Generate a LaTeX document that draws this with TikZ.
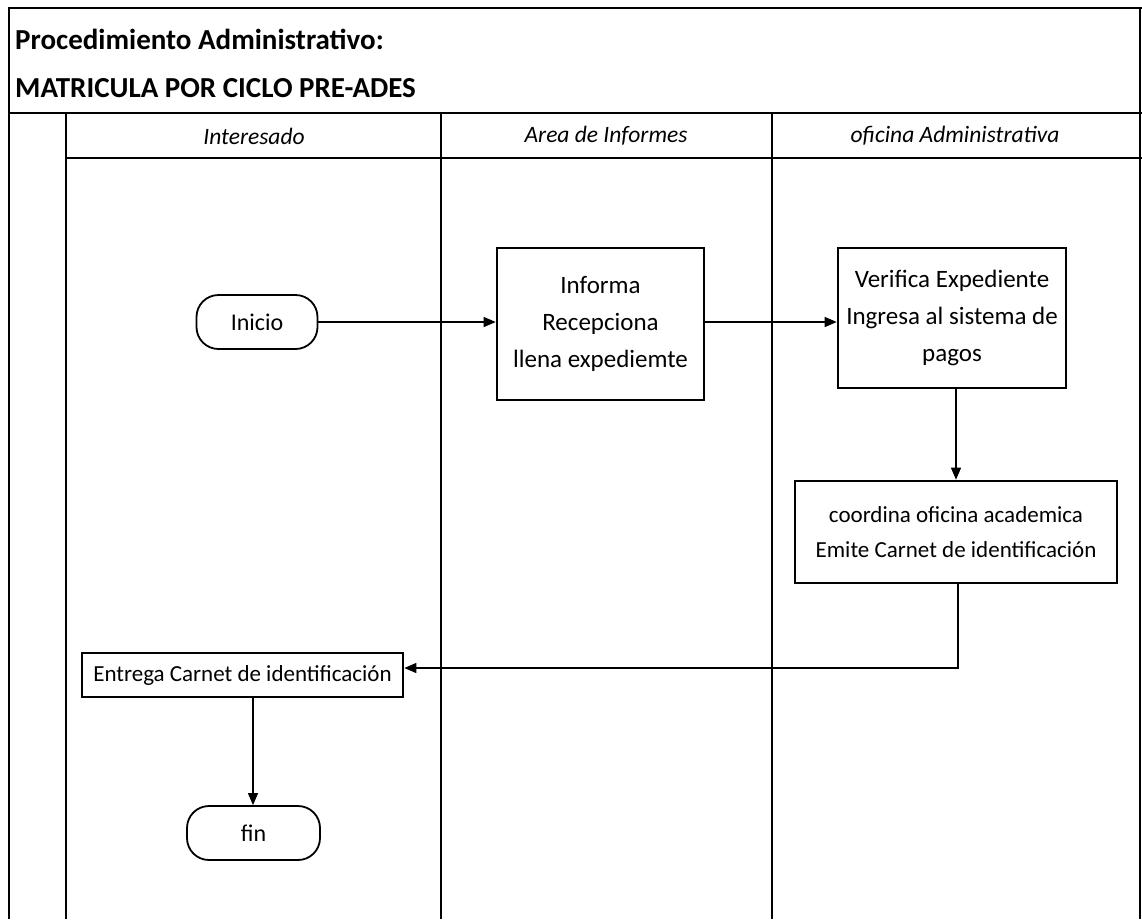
\documentclass[tikz,border=0pt]{standalone}
\usepackage{fontspec}
\setmainfont{Carlito}
\usetikzlibrary{arrows.meta}
\tikzset{
  frame/.style={line width=2.4pt},
  thin frame/.style={line width=1.6pt},
  procbox/.style={draw, line width=2.6pt, align=center, font=\fontsize{23}{35}\selectfont, inner sep=0pt},
  bigtext/.style={font=\fontsize{25}{37}\selectfont},
  term/.style={draw, line width=1.8pt, rounded corners=22pt, font=\fontsize{24}{28}\selectfont, inner sep=0pt},
  lanehead/.style={font=\itshape\fontsize{23.5}{26}\selectfont},
  titletext/.style={anchor=base west, font=\bfseries\fontsize{29}{32}\selectfont, inner sep=0pt},
  flow/.style={line width=1.2pt, -{Triangle[length=12pt,width=10pt]}},
}
\begin{document}
\begin{tikzpicture}[x=1pt,y=-1pt]
\useasboundingbox (0,0) rectangle (1142,919);
% outer frame
\draw[frame] (9,919) -- (9,8) -- (1142,8);
\draw[frame] (9,113) -- (1142,113);
\draw[frame] (66,158) -- (1142,158);
\draw[frame] (66,113) -- (66,919);
\draw[thin frame] (441,113) -- (441,919);
\draw[thin frame] (772,113) -- (772,919);
\draw[frame] (1140,8) -- (1140,919);
% title
\node[titletext] (t1) at (15,49) {Procedimiento Administrativo:};
\node[titletext] (t2) at (15,97) {MATRICULA POR CICLO PRE-ADES};
% lane headers
\node[lanehead] (h1) at (254,136) {Interesado};
\node[lanehead] (h2) at (606,136) {Area de Informes};
\node[lanehead] (h3) at (955,136) {oficina Administrativa};
% nodes
\node[term, minimum width=121pt, minimum height=54pt] (inicio) at (257,322) {Inicio};
\node[procbox, bigtext, minimum width=207pt, minimum height=152pt] (informa) at (600.5,324) {Informa\\Recepciona\\llena expediemte};
\node[procbox, bigtext, minimum width=228pt, minimum height=140pt] (verifica) at (952,318) {Verifica Expediente\\Ingresa al sistema de\\pagos};
\node[procbox, minimum width=322pt, minimum height=102pt] (coordina) at (956,532) {coordina oficina academica\\Emite Carnet de identificación};
\node[procbox, minimum width=321pt, minimum height=44pt] (entrega) at (242.5,675) {Entrega Carnet de identificación};
\node[term, minimum width=133pt, minimum height=54pt] (fin) at (253.5,833) {fin};
\coordinate (corner) at (958,668);
% connectors
\draw[flow] (inicio.east) -- (informa.west |- inicio.east);
\draw[flow] (informa.east |- 0,322) -- (verifica.west |- 0,322);
\draw[flow] (verifica.south -| 956,0) -- (coordina.north -| 956,0);
\draw[flow] (coordina.south -| corner) -- (corner) -- (entrega.east |- corner);
\draw[flow] (entrega.south -| 253,0) -- (fin.north -| 253,0);
\end{tikzpicture}
\end{document}
